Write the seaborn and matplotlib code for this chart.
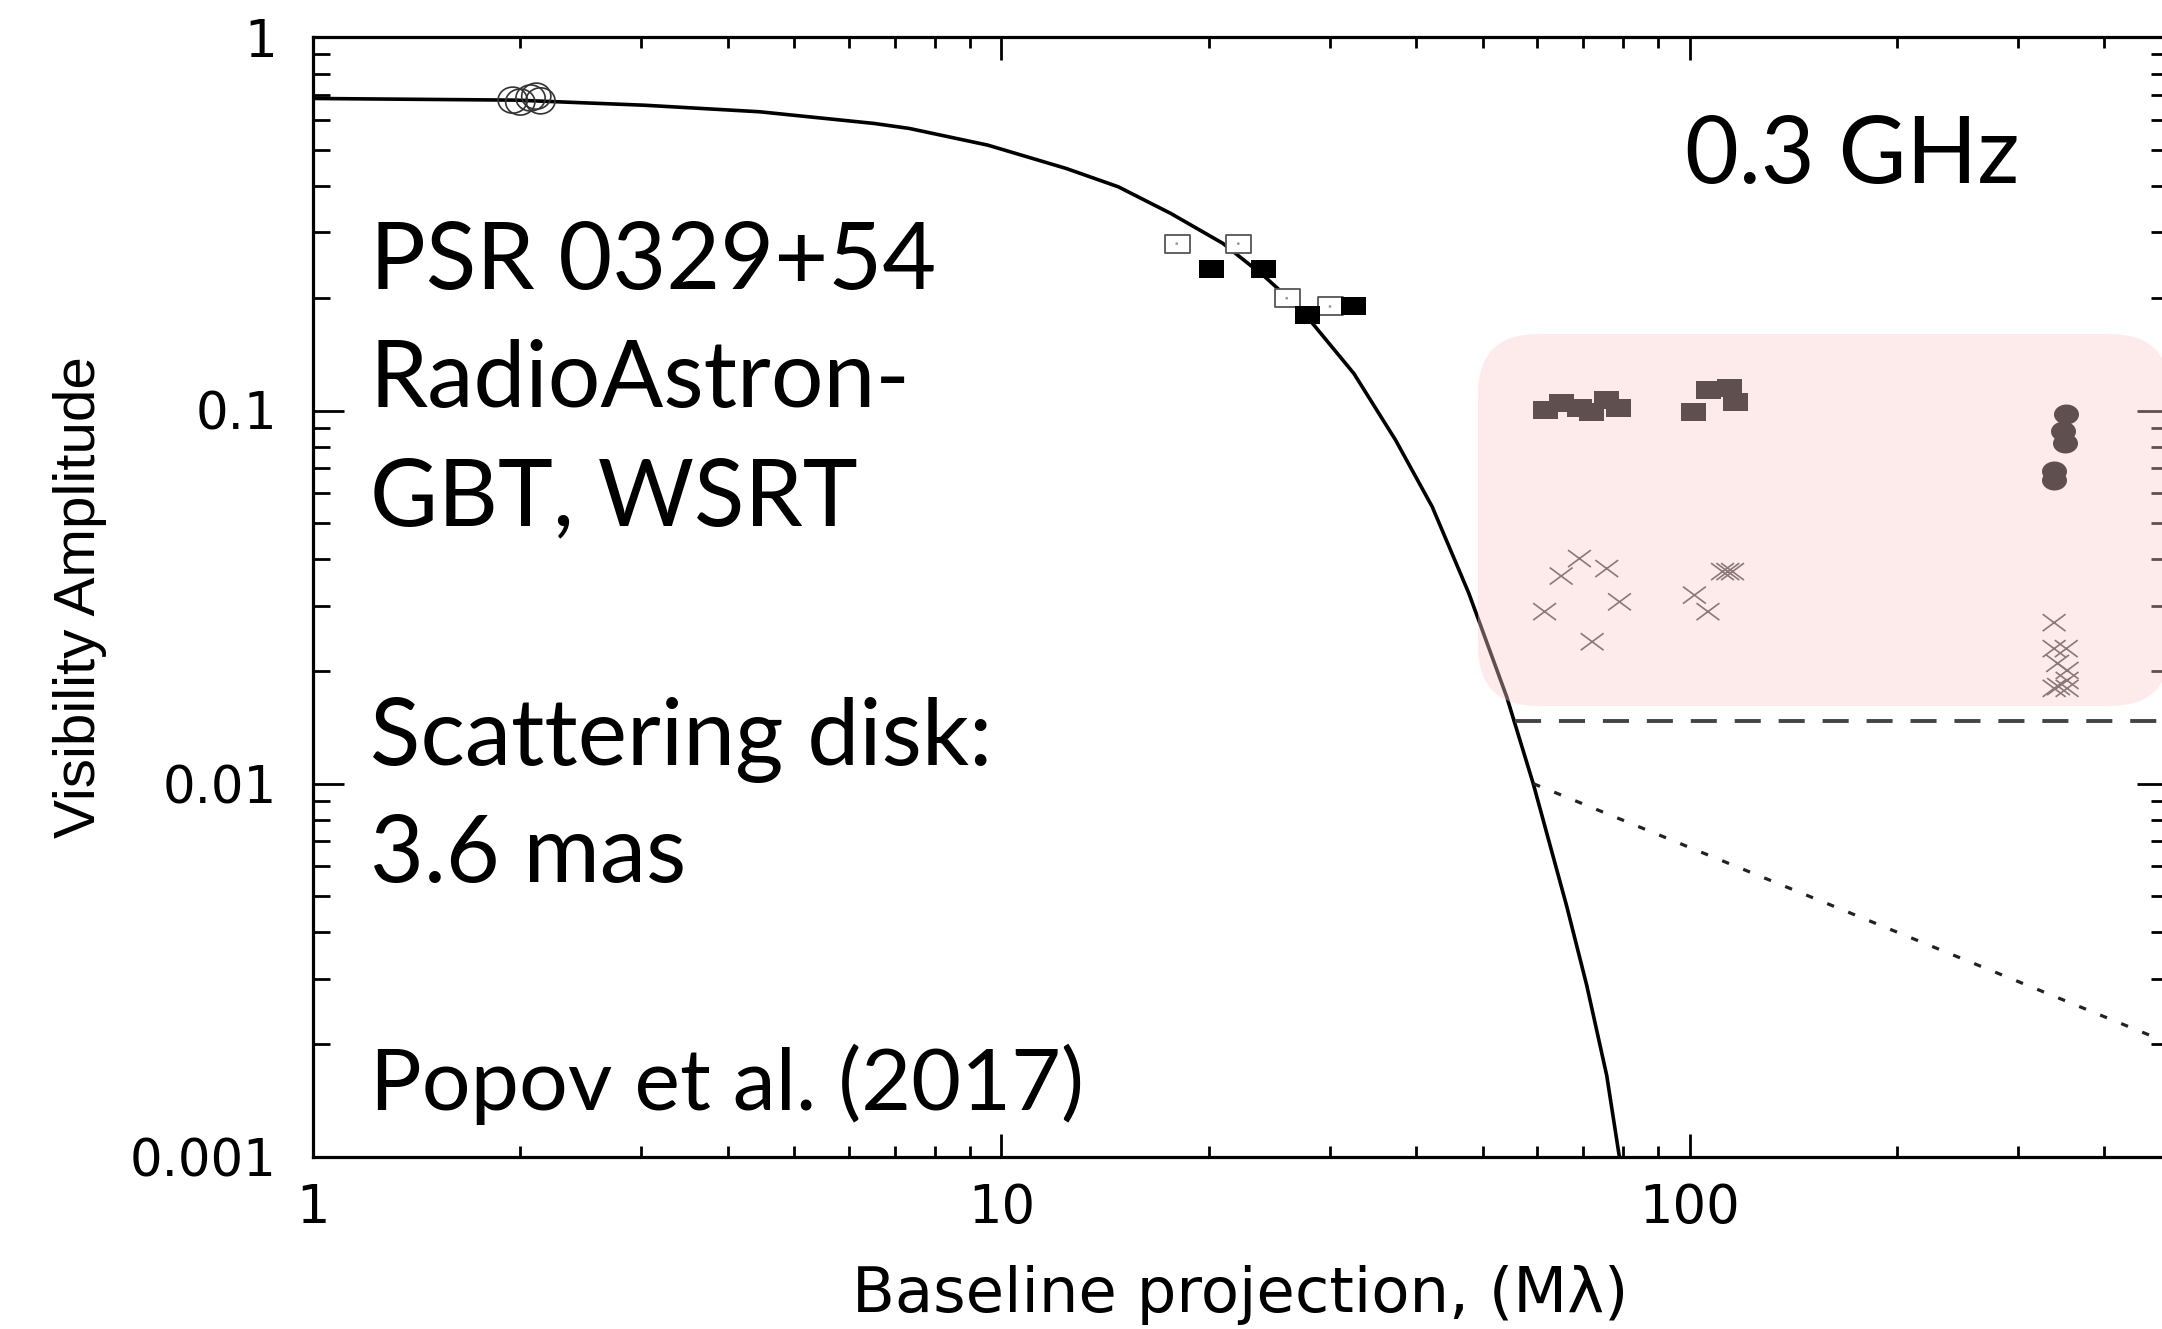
import numpy as np
import pandas as pd
import matplotlib
matplotlib.use("Agg")
import matplotlib.pyplot as plt
from matplotlib import font_manager
from matplotlib.path import Path
from matplotlib.patches import FancyBboxPatch
from matplotlib.transforms import IdentityTransform
from matplotlib.ticker import LogLocator, NullFormatter
import seaborn as sns

# ---------------- data: baseline projection (Mλ) vs visibility amplitude ----------------
# scattering-disk model curve
model_baseline = [1.0, 1.97, 3.03, 4.45, 6.53, 7.34, 9.55, 12.41, 14.78, 17.61,
                  20.97, 24.13, 27.28, 32.49, 37.36, 42.23, 47.72, 54.17, 59.2, 66.2,
                  70.8, 75.7, 78.7, 79.3]
model_vis = [0.686, 0.679, 0.658, 0.632, 0.588, 0.5703, 0.5144, 0.4455, 0.3977,
             0.3375, 0.2805, 0.2282, 0.1858, 0.1257, 0.0833, 0.0552, 0.0324, 0.0171,
             0.0100, 0.0047, 0.00288, 0.00165, 0.00104, 0.00095]

# short ground baselines (open circles)
short_baseline = [1.95, 2.0, 2.07, 2.11, 2.14]
short_vis = [0.679, 0.671, 0.688, 0.696, 0.676]

# ground baselines, open squares
gg_open_baseline = [17.97, 22.08, 25.96, 30.0]
gg_open_vis = [0.280, 0.280, 0.200, 0.190]

# ground baselines, filled squares
gg_fill_baseline = [20.15, 24.0, 27.8, 32.4]
gg_fill_vis = [0.240, 0.240, 0.180, 0.190]

# space-ground baselines, filled squares
ra_sq_baseline = [61.5, 65.0, 68.9, 71.8, 75.4, 78.6, 101.0, 106.2, 114.0, 116.3]
ra_sq_vis = [0.1003, 0.1045, 0.1013, 0.0992, 0.1066, 0.1013, 0.0992, 0.1134, 0.1146, 0.1055]

# space-ground baselines, filled circles
ra_circ_baseline = [352.0, 348.0, 351.0, 338.0, 338.0]
ra_circ_vis = [0.098, 0.088, 0.082, 0.069, 0.065]

# space-ground baselines, crosses
ra_x_baseline = [69.1, 65.0, 75.7, 79.0, 61.5, 72.1,
                 101.5, 106.2, 111.5, 113.5, 115.3,
                 338.0, 338.0, 352.0, 342.0, 353.0, 353.0, 343.0, 353.0, 338.0]
ra_x_vis = [0.0401, 0.0360, 0.0377, 0.0307, 0.0289, 0.0240,
            0.0320, 0.0289, 0.0370, 0.0370, 0.0370,
            0.0270, 0.0230, 0.0230, 0.0210, 0.0201, 0.0189, 0.0182, 0.0180, 0.0180]

# detection threshold (dashed) and refractive-substructure level (dotted)
threshold_baseline = [55.7, 495.0]
threshold_vis = [0.0147, 0.0147]
substructure_baseline = [59.2, 495.0]
substructure_vis = [0.0100, 0.00202]

x_major = [1, 10, 100]
x_tick_labels = ["1", "10", "100"]
y_major = [0.001, 0.01, 0.1, 1]
y_tick_labels = ["0.001", "0.01", "0.1", "1"]

annot_lines = ["PSR 0329+54", "RadioAstron-", "GBT, WSRT",
               "Scattering disk:", "3.6 mas", "Popov et al. (2017)"]
annot_sizes = [67, 67, 67, 67, 67, 62]
freq_label = "0.3 GHz"

# ---------------- style ----------------
sns.set_style("ticks")
plt.rcParams["font.family"] = ["DejaVu Sans"]
plt.rcParams["text.color"] = "black"
plt.rcParams["axes.labelcolor"] = "black"

installed = {f.name for f in font_manager.fontManager.ttflist}
if "Liberation Sans Narrow" in installed:
    ylab_family, ylab_size = "Liberation Sans Narrow", 50
else:
    ylab_family, ylab_size = "Liberation Sans", 42

W, H = 2162, 1329
fig = plt.figure(figsize=(W / 100, H / 100), dpi=100)
ax = fig.add_axes([313 / W, 172.3 / H, 1855.2 / W, 1119.3 / H])
ax.set_xscale("log")
ax.set_yscale("log")
ax.set_xlim(1, 495)
ax.set_ylim(0.001, 1)


def ellipse_marker(aspect):
    c = Path.unit_circle()
    return Path(c.vertices * np.array([aspect, 1.0]), c.codes)


rect_marker = Path([(-1.4, -1), (1.4, -1), (1.4, 1), (-1.4, 1), (-1.4, -1)],
                   [Path.MOVETO, Path.LINETO, Path.LINETO, Path.LINETO, Path.CLOSEPOLY])
cross_marker = Path([(-1.35, -1), (1.35, 1), (-1.35, 1), (1.35, -1)],
                    [Path.MOVETO, Path.LINETO, Path.MOVETO, Path.LINETO])

# model curve
sns.lineplot(x=model_baseline, y=model_vis, ax=ax, color="black", lw=2.6,
             sort=False, estimator=None, zorder=3)
# dashed threshold
sns.lineplot(x=threshold_baseline, y=threshold_vis, ax=ax, color="#444444", lw=2.8,
             sort=False, estimator=None, linestyle=(0, (6.7, 4.6)), zorder=3)
# dotted level
sns.lineplot(x=substructure_baseline, y=substructure_vis, ax=ax, color="#222222", lw=2.3,
             sort=False, estimator=None, linestyle=(0, (2.3, 4.8)), zorder=3)
for ln in ax.lines:
    ln.set_dash_capstyle("butt")
    ln.set_solid_joinstyle("round")

# markers
sns.scatterplot(x=short_baseline, y=short_vis, ax=ax, marker=ellipse_marker(1.12), s=441,
                facecolor="none", edgecolor="#333333", linewidth=1.2, zorder=4)
sns.scatterplot(x=gg_open_baseline, y=gg_open_vis, ax=ax, marker=rect_marker, s=324,
                facecolor="white", edgecolor="#555555", linewidth=1.3, zorder=4)
sns.scatterplot(x=gg_open_baseline, y=gg_open_vis, ax=ax, marker="o", s=4,
                facecolor="#999999", edgecolor="none", linewidth=0, zorder=5)
sns.scatterplot(x=gg_fill_baseline, y=gg_fill_vis, ax=ax, marker=rect_marker, s=324,
                facecolor="black", edgecolor="black", linewidth=0, zorder=4)
sns.scatterplot(x=ra_sq_baseline, y=ra_sq_vis, ax=ax, marker=rect_marker, s=324,
                facecolor="black", edgecolor="black", linewidth=0, zorder=4)
sns.scatterplot(x=ra_circ_baseline, y=ra_circ_vis, ax=ax, marker=ellipse_marker(1.25), s=324,
                facecolor="black", edgecolor="black", linewidth=0, zorder=4)
sns.scatterplot(x=ra_x_baseline, y=ra_x_vis, ax=ax, marker=cross_marker, s=272,
                facecolor="none", edgecolor="#444444", linewidth=1.2, zorder=4)

# translucent highlight over the space-ground points
box = FancyBboxPatch((1478, H - 706), 692, 372,
                     boxstyle="round,pad=0,rounding_size=60",
                     transform=IdentityTransform(), facecolor=(250 / 255, 204 / 255, 204 / 255),
                     edgecolor="none", alpha=0.39, zorder=10, clip_on=False)
ax.add_patch(box)

# axes, ticks
for sp in ax.spines.values():
    sp.set_visible(True)
    sp.set_linewidth(2.3)
    sp.set_color("black")
ax.set_xticks(x_major, labels=x_tick_labels)
ax.set_yticks(y_major, labels=y_tick_labels)
ax.xaxis.set_minor_locator(LogLocator(base=10, subs=np.arange(2, 10)))
ax.yaxis.set_minor_locator(LogLocator(base=10, subs=np.arange(2, 10)))
ax.xaxis.set_minor_formatter(NullFormatter())
ax.yaxis.set_minor_formatter(NullFormatter())
ax.tick_params(which="both", direction="in", top=True, right=True, width=2.0,
               color="black", labelcolor="black")
ax.tick_params(axis="x", which="major", length=16.6, labelsize=38, pad=18)
ax.tick_params(axis="x", which="minor", length=8)
ax.tick_params(axis="y", which="major", length=22, labelsize=37, pad=26)
ax.tick_params(axis="y", which="minor", length=12)

ax.set_xlabel("Baseline projection, (Mλ)", fontsize=45, family="DejaVu Sans", color="black")
ax.set_ylabel("Visibility Amplitude", fontsize=ylab_size, family=ylab_family, color="black")
ax.xaxis.set_label_coords(0.5, -0.0965)
ax.yaxis.set_label_coords((107 - 313) / 1855.2, 0.5)
ax.grid(False)

# annotations
baselines_px = [289, 407, 525, 765, 882, 1110]
for txt, yb, fs in zip(annot_lines, baselines_px, annot_sizes):
    fig.text(370 / W, 1 - yb / H, txt, fontsize=fs, family="Lato",
             ha="left", va="baseline", color="black")
fig.text(1685 / W, 1 - 183 / H, freq_label, fontsize=67, family="Lato",
         ha="left", va="baseline", color="black")

fig.savefig("out.png", dpi=100, facecolor="white")
